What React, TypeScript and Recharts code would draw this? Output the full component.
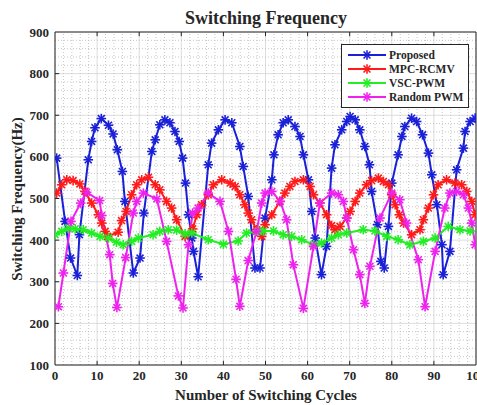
import React from 'react';
import { LineChart, Line, XAxis, YAxis, CartesianGrid, ReferenceLine, Legend } from 'recharts';

// values: [cycle, frequency in Hz]
const proposedPoints: [number, number][] = [
  [0.4, 597], [2.4, 445], [3.7, 357], [5.3, 315], [5.8, 413], [7.9, 593], [8.7, 637], [9.5, 670],
  [11, 692], [12.7, 676], [13.8, 655], [14.8, 617], [16, 565], [16.6, 493], [18.6, 321], [20.2, 357],
  [21.1, 465], [23, 613], [23.8, 641], [24.9, 677], [26.1, 689], [27.3, 682], [28.5, 661], [29.5, 637],
  [30.3, 597], [31, 537], [31.7, 461], [32.5, 405], [32.9, 373], [34, 312], [36.4, 581], [37.2, 633],
  [38.8, 665], [40.4, 689], [42, 682], [43.9, 625], [44.7, 577], [45.9, 505], [47.5, 333], [48.7, 333],
  [49.9, 453], [51.5, 545], [52, 605], [53, 653], [54.2, 682], [55.4, 689], [57, 673], [58.2, 649],
  [59, 605], [60.2, 545], [61, 469], [61.8, 405], [63.3, 317], [64.5, 385], [65.7, 573], [66.5, 629],
  [68.1, 665], [69.3, 685], [70.1, 697], [71.3, 689], [72.4, 665], [73.6, 625], [74.7, 581], [75.2, 517],
  [76.6, 437], [77.4, 349], [78.2, 333], [79.2, 433], [80, 537], [81.5, 605], [82.4, 649], [83.1, 673],
  [84.7, 693], [85.9, 685], [87.3, 653], [88.7, 609], [89.5, 557], [90.7, 485], [91.9, 389], [92.2, 317],
  [93.8, 373], [95.4, 569], [97, 621], [97.4, 661], [98.6, 685], [99.8, 693],
];

const mpcPoints: [number, number][] = [
  [0.4, 513], [1.6, 533], [2.8, 545], [4.3, 543], [5.9, 535], [7.1, 517], [8.7, 489], [10.3, 461],
  [11.1, 441], [11.9, 421], [12.5, 409], [15, 419], [15.8, 447], [16.9, 469], [18.2, 509], [19.4, 533],
  [20.6, 545], [22.2, 551], [23.8, 533], [24.9, 521], [26.5, 493], [27.7, 477], [28.9, 449], [30.9, 409],
  [32.7, 427], [33.7, 461], [34.8, 485], [36.4, 509], [37.6, 533], [39.6, 545], [41.6, 537], [42.8, 529],
  [43.9, 509], [45.1, 485], [45.9, 465], [46.7, 449], [47.9, 425], [49.1, 409], [49.9, 437], [51.5, 461],
  [53.4, 493], [54.6, 513], [55.8, 529], [57, 541], [59, 545], [60.6, 529], [61.4, 509], [62.9, 489],
  [64.5, 461], [65.7, 435], [66.5, 425], [67.7, 433], [69.3, 453], [70.1, 469], [71.3, 493], [72.4, 513],
  [74, 533], [75.2, 543], [76.8, 549], [78, 541], [79.2, 533], [80, 509], [80.8, 485], [81.8, 461],
  [82.8, 441], [84.7, 413], [86.7, 425], [87.5, 449], [88.7, 477], [89.9, 509], [91, 533], [93, 545],
  [95, 537], [96.6, 533], [97.8, 517], [99, 493], [99.8, 461],
];

const vscPoints: [number, number][] = [
  [0, 413], [1.6, 421], [3.2, 429], [4.8, 427], [6.7, 425], [8.7, 417], [10.7, 409], [12.7, 405],
  [14.6, 395], [16.2, 389], [18.2, 397], [19.8, 405], [23.3, 413], [24.9, 421], [26.9, 425], [28.9, 424],
  [30.9, 415], [32.5, 417], [36.4, 401], [40, 390], [43.5, 398], [45.5, 417], [48.3, 421], [49.5, 422],
  [51.9, 422], [54.2, 413], [56.2, 409], [58.6, 401], [61.4, 389], [63.3, 393], [65.7, 405], [67.3, 413],
  [69.3, 417], [73.2, 425], [76, 422], [78.8, 409], [81.5, 401], [84.3, 389], [87.5, 397], [90.3, 405],
  [93.4, 433], [96.2, 425], [98.6, 422],
];

const randomPoints: [number, number][] = [
  [0.8, 240], [2, 321], [3.8, 445], [6.1, 489], [7.5, 515], [10.6, 495], [11.1, 459], [13, 365],
  [13.7, 296], [14.7, 238], [16.8, 358], [18.6, 465], [19.4, 493], [21, 513], [24.2, 499], [26.5, 397],
  [29.3, 266], [30.4, 237], [31.7, 389], [32.7, 465], [34, 477], [36.4, 513], [39.2, 493], [41.2, 421],
  [43, 306], [43.9, 241], [45.9, 351], [47.9, 421], [49.1, 489], [49.9, 513], [51.5, 517], [53.5, 493],
  [55, 449], [56.6, 341], [59, 236], [61.4, 385], [62.9, 489], [65.7, 513], [67.3, 509], [68.5, 493],
  [69.3, 453], [70.9, 377], [72.4, 317], [73.6, 248], [74.8, 337], [77.2, 453], [80, 513], [81.9, 497],
  [83.5, 441], [86.3, 353], [87.9, 240], [90.3, 373], [92.6, 477], [93.8, 513], [95.4, 517], [97, 509],
  [98.2, 477], [99, 441], [99.8, 389],
];

const seriesNames = ['Proposed', 'MPC-RCMV', 'VSC-PWM', 'Random PWM'];
const seriesColors = ['#1a20d8', '#ff1a1a', '#22ee22', '#ee22ee'];

const xTicks = [0, 10, 20, 30, 40, 50, 60, 70, 80, 90, 100];
const yTicks = [100, 200, 300, 400, 500, 600, 700, 800, 900];
const minorX = Array.from({ length: 51 }, (_, i) => i * 2).filter((v) => v % 10 !== 0);
const minorY = Array.from({ length: 41 }, (_, i) => 100 + i * 20).filter((v) => v % 100 !== 0);

const toRows = (pts: [number, number][]) => pts.map(([x, y]) => ({ x, y }));
const allSeries = [proposedPoints, mpcPoints, vscPoints, randomPoints].map(toRows);

const FONT = '"Liberation Serif", "Times New Roman", serif';
const INK = '#262626';
const tickStyle = { fontFamily: FONT, fontWeight: 700, fontSize: 13, fill: INK };

const Asterisk = ({ cx, cy, color, r = 4.8 }: { cx: number; cy: number; color: string; r?: number }) => {
  if (cx == null || cy == null) return null;
  const d = r * 0.72;
  return (
    <g stroke={color} strokeWidth={1.6}>
      <line x1={cx - r} y1={cy} x2={cx + r} y2={cy} />
      <line x1={cx} y1={cy - r} x2={cx} y2={cy + r} />
      <line x1={cx - d} y1={cy - d} x2={cx + d} y2={cy + d} />
      <line x1={cx - d} y1={cy + d} x2={cx + d} y2={cy - d} />
    </g>
  );
};

const LegendBox = () => (
  <div
    style={{
      border: `1px solid ${INK}`,
      background: '#fff',
      padding: '3px 5px 3px 5px',
      fontFamily: FONT,
      fontWeight: 700,
      fontSize: 11.5,
      color: INK,
    }}
  >
    {seriesNames.map((name, i) => (
      <div key={name} style={{ display: 'flex', alignItems: 'center', height: 14 }}>
        <svg width={40} height={12} style={{ marginRight: 2 }}>
          <line x1={1} y1={6} x2={39} y2={6} stroke={seriesColors[i]} strokeWidth={2.2} />
          <Asterisk cx={20} cy={6} color={seriesColors[i]} />
        </svg>
        <span>{name}</span>
      </div>
    ))}
  </div>
);

const labelStyle: React.CSSProperties = {
  position: 'absolute',
  fontFamily: FONT,
  fontWeight: 700,
  color: INK,
  whiteSpace: 'nowrap',
};

export default function App() {
  return (
    <div style={{ position: 'absolute', left: 0, top: 0, width: 477, height: 405, background: '#fff' }}>
      <LineChart width={477} height={405} margin={{ top: 32, right: 1, bottom: 0, left: 0 }}>
        {minorX.map((v) => (
          <ReferenceLine key={`mx${v}`} x={v} stroke="#b8b8b8" strokeDasharray="1 2" strokeWidth={0.8} />
        ))}
        {minorY.map((v) => (
          <ReferenceLine key={`my${v}`} y={v} stroke="#b8b8b8" strokeDasharray="1 2" strokeWidth={0.8} />
        ))}
        <CartesianGrid stroke="#d4d4d4" strokeWidth={0.8} />
        <XAxis
          type="number"
          dataKey="x"
          domain={[0, 100]}
          ticks={xTicks}
          interval={0}
          allowDataOverflow
          height={40}
          tick={tickStyle}
          tickLine={false}
          tickSize={0}
          tickMargin={6}
          axisLine={{ stroke: INK }}
        />
        <YAxis
          type="number"
          dataKey="y"
          domain={[100, 900]}
          ticks={yTicks}
          interval={0}
          allowDataOverflow
          width={55}
          tick={tickStyle}
          tickLine={false}
          tickSize={0}
          tickMargin={6}
          axisLine={{ stroke: INK }}
        />
        <ReferenceLine y={900} stroke={INK} />
        <ReferenceLine x={100} stroke={INK} />
        {/* inward tick marks, MATLAB style */}
        {xTicks.slice(1, -1).map((v) => (
          <ReferenceLine key={`tb${v}`} segment={[{ x: v, y: 100 }, { x: v, y: 110 }]} stroke={INK} />
        ))}
        {xTicks.slice(1, -1).map((v) => (
          <ReferenceLine key={`tt${v}`} segment={[{ x: v, y: 900 }, { x: v, y: 890 }]} stroke={INK} />
        ))}
        {yTicks.slice(1, -1).map((v) => (
          <ReferenceLine key={`tl${v}`} segment={[{ x: 0, y: v }, { x: 1, y: v }]} stroke={INK} />
        ))}
        {allSeries.map((rows, i) => (
          <Line
            key={seriesNames[i]}
            data={rows}
            dataKey="y"
            name={seriesNames[i]}
            type="linear"
            stroke={seriesColors[i]}
            strokeWidth={2}
            isAnimationActive={false}
            dot={(p: any) => <Asterisk key={`${i}-${p.index}`} cx={p.cx} cy={p.cy} color={seriesColors[i]} />}
            activeDot={false}
          />
        ))}
        <Legend
          layout="vertical"
          align="center"
          verticalAlign="middle"
          content={() => <LegendBox />}
          wrapperStyle={{ left: 341, top: 44, width: 'auto' }}
        />
      </LineChart>
      <div style={{ ...labelStyle, left: 266, top: 18, transform: 'translate(-50%, -50%)', fontSize: 18 }}>
        Switching Frequency
      </div>
      <div style={{ ...labelStyle, left: 266, top: 395, transform: 'translate(-50%, -50%)', fontSize: 15 }}>
        Number of Switching Cycles
      </div>
      <div
        style={{ ...labelStyle, left: 17, top: 199, transform: 'translate(-50%, -50%) rotate(-90deg)', fontSize: 15 }}
      >
        Switching Frequency(Hz)
      </div>
    </div>
  );
}
